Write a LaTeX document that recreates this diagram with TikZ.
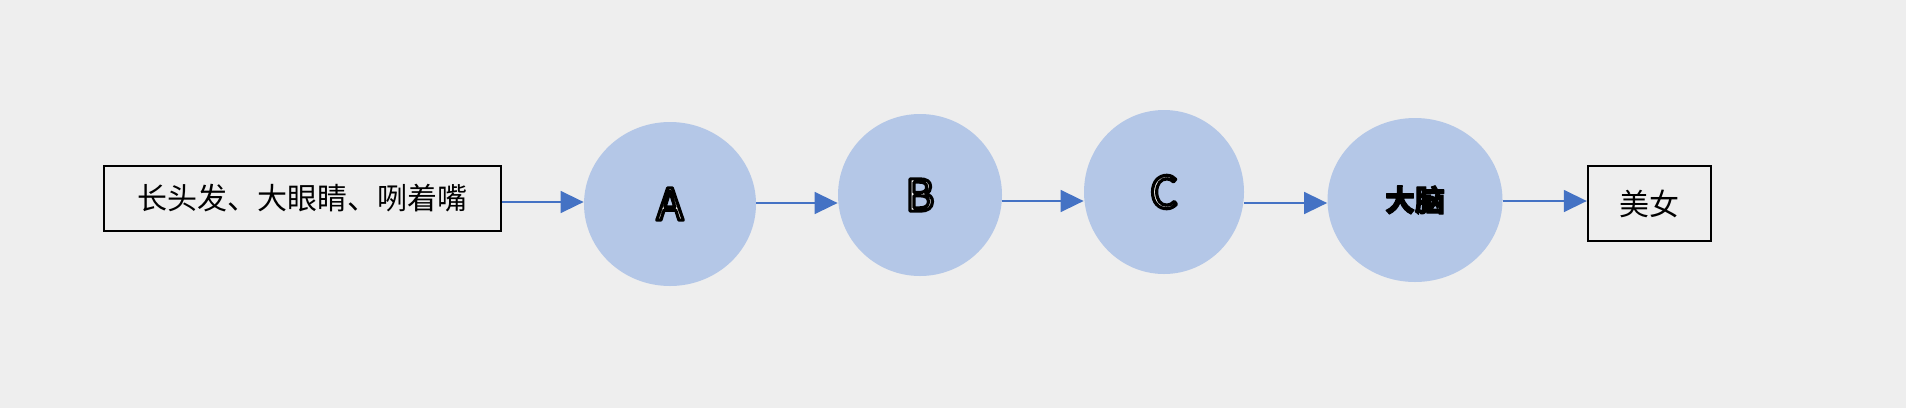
\documentclass[tikz,border=0pt]{standalone}
\usepackage{fontspec}
\setmainfont{Noto Sans CJK SC}
\newfontfamily\cjkfont{Noto Sans CJK SC}
\usetikzlibrary{shapes.geometric,arrows.meta}
\definecolor{bgc}{HTML}{EEEEEE}
\definecolor{circfill}{HTML}{B4C7E7}
\definecolor{arrc}{HTML}{4472C4}
% outlined glyphs: text render mode 2 (fill white, then stroke black)
\newcommand\hollowtxt[1]{\textcolor{white}{\special{pdf:literal q 2 Tr 1.6 w 1 j 0 G}#1\special{pdf:literal 0 Tr Q}}}
\newcommand\heavytxt[1]{\textcolor{black}{\special{pdf:literal q 2 Tr 0.5 w 1 j 0 G}#1\special{pdf:literal 0 Tr Q}}}
\tikzset{
  textbox/.style={draw=black, line width=1.2pt, inner sep=0pt, font=\cjkfont\fontsize{15}{18}\selectfont},
  blob/.style={ellipse, fill=circfill, draw=none, inner sep=0pt},
  letter/.style={font=\fontsize{22}{26}\selectfont},
  flow/.style={draw=arrc, line width=0.8pt, -{Triangle[length=11.5pt,width=11pt]}}
}
\begin{document}
\begin{tikzpicture}[x=0.5pt,y=-0.5pt]
\fill[bgc] (0,0) rectangle (1906,408);
\useasboundingbox (0,0) rectangle (1906,408);
\node[textbox, minimum width=198.5pt, minimum height=32.5pt] (src) at (302.5,198.5) {长头发、大眼睛、咧着嘴};
\node[blob, minimum width=86pt, minimum height=82pt, letter] (A) at (670,204) {\hollowtxt{A}};
\node[blob, minimum width=82pt, minimum height=81pt, letter] (B) at (920,195) {\hollowtxt{B}};
\node[blob, minimum width=80pt, minimum height=82pt, letter] (C) at (1164,192) {\hollowtxt{C}};
\node[blob, minimum width=87.5pt, minimum height=82pt, font=\bfseries\fontsize{15}{18}\selectfont] (brain) at (1415,200) {\heavytxt{大脑}};
\node[textbox, minimum width=61.5pt, minimum height=37.5pt] (dst) at (1649.5,203.5) {美女};
\draw[flow] (src.east |- 0,202) -- (A.west |- 0,202);
\draw[flow] (A.east |- 0,203) -- (B.west |- 0,203);
\draw[flow] (B.east |- 0,201) -- (C.west |- 0,201);
\draw[flow] (C.east |- 0,203) -- (brain.west |- 0,203);
\draw[flow] (brain.east |- 0,201) -- (dst.west |- 0,201);
\end{tikzpicture}
\end{document}
